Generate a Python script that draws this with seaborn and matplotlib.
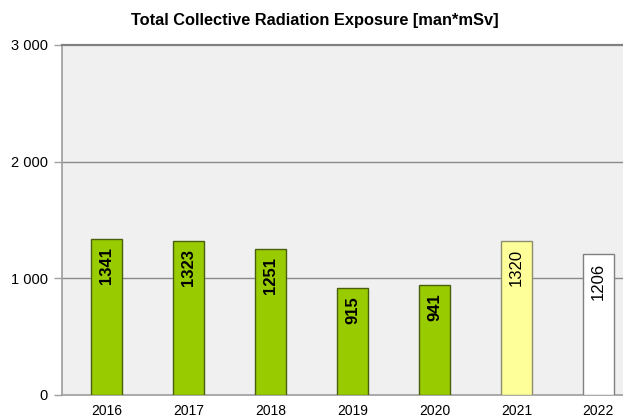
import numpy as np
import pandas as pd
import matplotlib.pyplot as plt
import matplotlib.ticker as ticker
import seaborn as sns

# ─── DATA ─────────────────────────────────────────────────────────────────────
YEARS = ["2016", "2017", "2018", "2019", "2020", "2021", "2022"]
EXPOSURE = [1341, 1323, 1251, 915, 941, 1320, 1206]
BAR_COLORS = ["#99cc00", "#99cc00", "#99cc00", "#99cc00", "#99cc00", "#ffff99", "#ffffff"]
EDGE_COLORS = ["#4a5e10", "#4a5e10", "#4a5e10", "#4a5e10", "#4a5e10", "#8c8c70", "#808080"]
BOLD_LABEL = [True, True, True, True, True, False, False]
TITLE = "Total Collective Radiation Exposure [man*mSv]"

# ─── STYLE ────────────────────────────────────────────────────────────────────
sns.set_theme(style="white")
plt.rcParams["font.family"] = ["Liberation Sans", "DejaVu Sans"]
plt.rcParams["text.color"] = "black"
plt.rcParams["xtick.color"] = "black"
plt.rcParams["ytick.color"] = "black"


def main():
    df = pd.DataFrame({"Year": YEARS, "Value": EXPOSURE})

    fig = plt.figure(figsize=(6.23, 4.18), dpi=100)
    ax = fig.add_axes([62 / 623, 23 / 418, 1 - 62 / 623, 350 / 418])
    ax.set_facecolor("#f0f0f0")

    sns.barplot(data=df, x="Year", y="Value", hue="Year", palette=BAR_COLORS,
                legend=False, width=0.38, saturation=1, ax=ax, zorder=3)
    for patch, ec in zip(ax.patches, EDGE_COLORS):
        patch.set_edgecolor(ec)
        patch.set_linewidth(1.0)

    for i, v in enumerate(EXPOSURE):
        ax.annotate(str(v), (i, v), xytext=(0, -6), textcoords="offset points",
                    rotation=90, ha="center", va="top", fontsize=12,
                    fontweight="bold" if BOLD_LABEL[i] else "normal",
                    color="black", zorder=4)

    ax.set_ylim(0, 3000)
    ax.set_xlim(-0.545, 6.3)
    ax.yaxis.set_major_locator(ticker.MultipleLocator(1000))
    ax.yaxis.set_major_formatter(
        ticker.FuncFormatter(lambda y, _: f"{int(y):,}".replace(",", " ")))
    for y in (1000, 2000):
        ax.axhline(y, color="#8a8a8a", linewidth=1.0, zorder=1)

    ax.spines["right"].set_visible(False)
    ax.spines["top"].set_color("#808080")
    ax.spines["top"].set_linewidth(1.6)
    ax.spines["left"].set_color("#a0a0a0")
    ax.spines["bottom"].set_color("#a0a0a0")

    ax.tick_params(axis="y", left=True, length=6, width=1, color="#a0a0a0",
                   labelcolor="black", labelsize=10.5, pad=4)
    ax.tick_params(axis="x", bottom=False, labelcolor="black", labelsize=10, pad=0.5)
    ax.set_xlabel("")
    ax.set_ylabel("")

    fig.text(315 / 623, 1 - 20 / 418, TITLE, ha="center", va="center",
             fontsize=11.8, fontweight="bold", color="black")

    fig.savefig("out.png", dpi=100)


if __name__ == "__main__":
    main()
